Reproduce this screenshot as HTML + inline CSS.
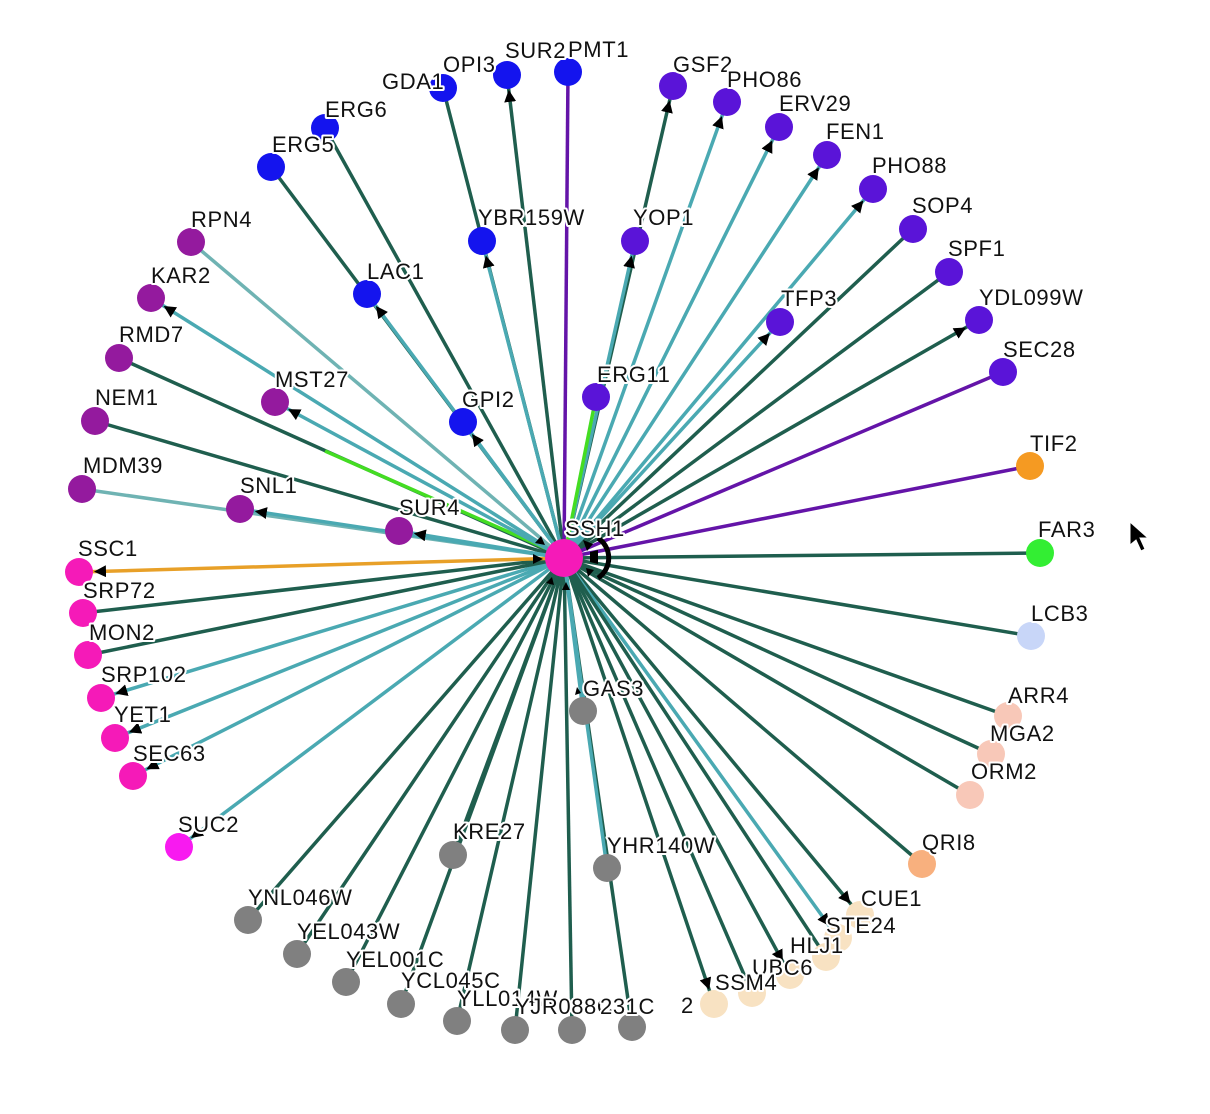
<!DOCTYPE html>
<html><head><meta charset="utf-8"><style>
html,body{margin:0;padding:0;background:#fff;}
svg{display:block;}
text{font-family:"Liberation Sans",sans-serif;font-size:22px;letter-spacing:0.6px;fill:#111;paint-order:stroke;stroke:#fff;stroke-width:4px;stroke-linejoin:round;}
</style></head><body>
<svg width="1210" height="1114" viewBox="0 0 1210 1114" xmlns="http://www.w3.org/2000/svg">
<defs>
<marker id="a" markerUnits="userSpaceOnUse" markerWidth="30" markerHeight="14" refX="27" refY="6" orient="auto"><path d="M0,0 L12,6 L0,12 z" fill="#000"/></marker>
</defs>
<g stroke-width="3.5" fill="none">
<!-- dark green #1f5e4e, teal #4aa9b2, purple #6414a8 -->
<line x1="564" y1="558" x2="271" y2="167" stroke="#1f5e4e"/>
<line x1="564" y1="558" x2="325" y2="128" stroke="#1f5e4e"/>
<line x1="564" y1="558" x2="443" y2="88" stroke="#1f5e4e"/>
<line x1="564" y1="558" x2="507" y2="75" stroke="#1f5e4e" marker-end="url(#a)"/>
<line x1="564" y1="558" x2="568" y2="72" stroke="#6414a8"/>
<line x1="564" y1="558" x2="673" y2="86" stroke="#1f5e4e" marker-end="url(#a)"/>
<line x1="564" y1="558" x2="727" y2="102" stroke="#4aa9b2" marker-end="url(#a)"/>
<line x1="564" y1="558" x2="779" y2="127" stroke="#4aa9b2" marker-end="url(#a)"/>
<line x1="564" y1="558" x2="827" y2="155" stroke="#4aa9b2" marker-end="url(#a)"/>
<line x1="564" y1="558" x2="873" y2="189" stroke="#4aa9b2" marker-end="url(#a)"/>
<line x1="564" y1="558" x2="913" y2="229" stroke="#1f5e4e"/>
<line x1="564" y1="558" x2="949" y2="272" stroke="#1f5e4e"/>
<line x1="564" y1="558" x2="979" y2="320" stroke="#1f5e4e" marker-end="url(#a)"/>
<line x1="564" y1="558" x2="1003" y2="372" stroke="#6414a8"/>
<line x1="564" y1="558" x2="1030" y2="466" stroke="#6414a8"/>
<line x1="564" y1="558" x2="1040" y2="553" stroke="#1f5e4e"/>
<line x1="564" y1="558" x2="1031" y2="636" stroke="#1f5e4e"/>
<line x1="564" y1="558" x2="1008" y2="716" stroke="#1f5e4e"/>
<line x1="564" y1="558" x2="991" y2="754" stroke="#1f5e4e"/>
<line x1="564" y1="558" x2="970" y2="795" stroke="#1f5e4e"/>
<line x1="564" y1="558" x2="922" y2="864" stroke="#1f5e4e"/>
<line x1="564" y1="558" x2="860" y2="915" stroke="#1f5e4e" marker-end="url(#a)"/>
<line x1="564" y1="558" x2="838" y2="938" stroke="#4aa9b2" marker-end="url(#a)"/>
<line x1="564" y1="558" x2="826" y2="957" stroke="#1f5e4e"/>
<line x1="564" y1="558" x2="790" y2="975" stroke="#1f5e4e" marker-end="url(#a)"/>
<line x1="564" y1="558" x2="752" y2="993" stroke="#1f5e4e"/>
<line x1="564" y1="558" x2="714" y2="1004" stroke="#1f5e4e" marker-end="url(#a)"/>
<line x1="564" y1="558" x2="632" y2="1027" stroke="#1f5e4e"/>
<line x1="564" y1="558" x2="572" y2="1030" stroke="#1f5e4e"/>
<line x1="564" y1="558" x2="515" y2="1030" stroke="#1f5e4e"/>
<line x1="564" y1="558" x2="457" y2="1021" stroke="#1f5e4e"/>
<line x1="564" y1="558" x2="401" y2="1004" stroke="#1f5e4e"/>
<line x1="564" y1="558" x2="346" y2="982" stroke="#1f5e4e"/>
<line x1="564" y1="558" x2="297" y2="954" stroke="#1f5e4e"/>
<line x1="564" y1="558" x2="248" y2="920" stroke="#1f5e4e"/>
<line x1="564" y1="558" x2="453" y2="855" stroke="#1f5e4e"/>
<line x1="564" y1="558" x2="607" y2="868" stroke="#4aa9b2"/>
<line x1="564" y1="558" x2="583" y2="711" stroke="#4aa9b2"/>
<line x1="564" y1="558" x2="179" y2="847" stroke="#4aa9b2" marker-end="url(#a)"/>
<line x1="564" y1="558" x2="133" y2="776" stroke="#4aa9b2" marker-end="url(#a)"/>
<line x1="564" y1="558" x2="115" y2="738" stroke="#4aa9b2" marker-end="url(#a)"/>
<line x1="564" y1="558" x2="101" y2="698" stroke="#4aa9b2" marker-end="url(#a)"/>
<line x1="564" y1="558" x2="88" y2="655" stroke="#1f5e4e"/>
<line x1="564" y1="558" x2="83" y2="613" stroke="#1f5e4e"/>
<line x1="564" y1="558" x2="79" y2="572" stroke="#e8a028" marker-end="url(#a)"/>
<line x1="564" y1="558" x2="82" y2="489" stroke="#6fb3b3"/>
<line x1="564" y1="558" x2="240" y2="509" stroke="#4aa9b2" marker-end="url(#a)"/>
<line x1="564" y1="558" x2="95" y2="421" stroke="#1f5e4e"/>
<line x1="564" y1="558" x2="399" y2="531" stroke="#4aa9b2" marker-end="url(#a)"/>
<line x1="564" y1="558" x2="119" y2="358" stroke="#1f5e4e"/>
<line x1="545" y1="548" x2="325" y2="451" stroke="#44dd22"/>
<line x1="564" y1="558" x2="275" y2="402" stroke="#4aa9b2" marker-end="url(#a)"/>
<line x1="564" y1="558" x2="151" y2="298" stroke="#4aa9b2" marker-end="url(#a)"/>
<line x1="564" y1="558" x2="191" y2="242" stroke="#6fb3b3"/>
<line x1="564" y1="558" x2="367" y2="294" stroke="#4aa9b2" marker-end="url(#a)"/>
<line x1="564" y1="558" x2="463" y2="422" stroke="#4aa9b2" marker-end="url(#a)"/>
<line x1="564" y1="558" x2="482" y2="241" stroke="#4aa9b2" marker-end="url(#a)"/>
<line x1="564" y1="558" x2="635" y2="241" stroke="#4aa9b2" marker-end="url(#a)"/>
<line x1="564" y1="558" x2="780" y2="322" stroke="#4aa9b2" marker-end="url(#a)"/>
<line x1="564" y1="558" x2="596" y2="397" stroke="#44dd22"/>
</g>
<!-- arrows near center -->
<g fill="#000">
<path d="M583,540 l10,4 l-6,7z"/><path d="M590,552 l8,-2 l0,14 l-8,-2z"/><path d="M586,568 l8,2 l-6,7z"/>
<path d="M545,545 l-10,-2 l6,-7z"/><path d="M543,559 l-10,-5 l0,10z"/><path d="M552,577 l-6,6 l8,2z"/><path d="M566,582 l-4,8 l8,0z"/>
<path d="M577,687 l4,6 l-6,2z"/>
</g>
<g stroke="none">
<circle cx="271" cy="167" r="14" fill="#1414ee"/>
<circle cx="325" cy="128" r="14" fill="#1414ee"/>
<circle cx="443" cy="88" r="14" fill="#1414ee"/>
<circle cx="507" cy="75" r="14" fill="#1414ee"/>
<circle cx="568" cy="72" r="14" fill="#1414ee"/>
<circle cx="482" cy="241" r="14" fill="#1414ee"/>
<circle cx="367" cy="294" r="14" fill="#1414ee"/>
<circle cx="463" cy="422" r="14" fill="#1414ee"/>
<circle cx="673" cy="86" r="14" fill="#5a14d8"/>
<circle cx="727" cy="102" r="14" fill="#5a14d8"/>
<circle cx="779" cy="127" r="14" fill="#5a14d8"/>
<circle cx="827" cy="155" r="14" fill="#5a14d8"/>
<circle cx="873" cy="189" r="14" fill="#5a14d8"/>
<circle cx="913" cy="229" r="14" fill="#5a14d8"/>
<circle cx="949" cy="272" r="14" fill="#5a14d8"/>
<circle cx="979" cy="320" r="14" fill="#5a14d8"/>
<circle cx="1003" cy="372" r="14" fill="#5a14d8"/>
<circle cx="635" cy="241" r="14" fill="#5a14d8"/>
<circle cx="780" cy="322" r="14" fill="#5a14d8"/>
<circle cx="596" cy="397" r="14" fill="#5a14d8"/>
<circle cx="191" cy="242" r="14" fill="#941a9e"/>
<circle cx="151" cy="298" r="14" fill="#941a9e"/>
<circle cx="119" cy="358" r="14" fill="#941a9e"/>
<circle cx="95" cy="421" r="14" fill="#941a9e"/>
<circle cx="82" cy="489" r="14" fill="#941a9e"/>
<circle cx="275" cy="402" r="14" fill="#941a9e"/>
<circle cx="240" cy="509" r="14" fill="#941a9e"/>
<circle cx="399" cy="531" r="14" fill="#941a9e"/>
<circle cx="79" cy="572" r="14" fill="#f51ab8"/>
<circle cx="83" cy="613" r="14" fill="#f51ab8"/>
<circle cx="88" cy="655" r="14" fill="#f51ab8"/>
<circle cx="101" cy="698" r="14" fill="#f51ab8"/>
<circle cx="115" cy="738" r="14" fill="#f51ab8"/>
<circle cx="133" cy="776" r="14" fill="#f51ab8"/>
<circle cx="179" cy="847" r="14" fill="#f81af0"/>
<circle cx="1030" cy="466" r="14" fill="#f59a22"/>
<circle cx="1040" cy="553" r="14" fill="#33ee33"/>
<circle cx="1031" cy="636" r="14" fill="#c8d6f8"/>
<circle cx="1008" cy="716" r="14" fill="#f8c8b8"/>
<circle cx="991" cy="754" r="14" fill="#f8c8b8"/>
<circle cx="970" cy="795" r="14" fill="#f8c8b8"/>
<circle cx="922" cy="864" r="14" fill="#f8b07e"/>
<circle cx="860" cy="915" r="14" fill="#f8e2c2"/>
<circle cx="838" cy="938" r="14" fill="#f8e2c2"/>
<circle cx="826" cy="957" r="14" fill="#f8e2c2"/>
<circle cx="790" cy="975" r="14" fill="#f8e2c2"/>
<circle cx="752" cy="993" r="14" fill="#f8e2c2"/>
<circle cx="714" cy="1004" r="14" fill="#f8e2c2"/>
<circle cx="583" cy="711" r="14" fill="#808080"/>
<circle cx="607" cy="868" r="14" fill="#808080"/>
<circle cx="453" cy="855" r="14" fill="#808080"/>
<circle cx="248" cy="920" r="14" fill="#808080"/>
<circle cx="297" cy="954" r="14" fill="#808080"/>
<circle cx="346" cy="982" r="14" fill="#808080"/>
<circle cx="401" cy="1004" r="14" fill="#808080"/>
<circle cx="457" cy="1021" r="14" fill="#808080"/>
<circle cx="515" cy="1030" r="14" fill="#808080"/>
<circle cx="572" cy="1030" r="14" fill="#808080"/>
<circle cx="632" cy="1027" r="14" fill="#808080"/>
<path d="M598,538 a24,24 0 0 1 0,40" stroke="#000" stroke-width="5" fill="none"/>
<circle cx="564" cy="558" r="19" fill="#f51ab8"/>
</g>
<g>
<text x="272" y="152">ERG5</text>
<text x="325" y="117">ERG6</text>
<text x="382" y="89">GDA1</text>
<text x="443" y="72">OPI3</text>
<text x="505" y="58">SUR2</text>
<text x="568" y="57">PMT1</text>
<text x="478" y="225">YBR159W</text>
<text x="367" y="279">LAC1</text>
<text x="462" y="407">GPI2</text>
<text x="673" y="72">GSF2</text>
<text x="727" y="87">PHO86</text>
<text x="779" y="111">ERV29</text>
<text x="826" y="139">FEN1</text>
<text x="872" y="173">PHO88</text>
<text x="912" y="213">SOP4</text>
<text x="948" y="256">SPF1</text>
<text x="979" y="305">YDL099W</text>
<text x="1003" y="357">SEC28</text>
<text x="633" y="225">YOP1</text>
<text x="781" y="306">TFP3</text>
<text x="597" y="382">ERG11</text>
<text x="191" y="227">RPN4</text>
<text x="151" y="283">KAR2</text>
<text x="119" y="342">RMD7</text>
<text x="95" y="405">NEM1</text>
<text x="83" y="473">MDM39</text>
<text x="275" y="387">MST27</text>
<text x="240" y="493">SNL1</text>
<text x="399" y="515">SUR4</text>
<text x="565" y="536">SSH1</text>
<text x="78" y="556">SSC1</text>
<text x="83" y="598">SRP72</text>
<text x="89" y="640">MON2</text>
<text x="101" y="682">SRP102</text>
<text x="114" y="722">YET1</text>
<text x="133" y="761">SEC63</text>
<text x="178" y="832">SUC2</text>
<text x="1030" y="451">TIF2</text>
<text x="1038" y="537">FAR3</text>
<text x="1031" y="621">LCB3</text>
<text x="1008" y="703">ARR4</text>
<text x="990" y="741">MGA2</text>
<text x="971" y="779">ORM2</text>
<text x="922" y="850">QRI8</text>
<text x="861" y="906">CUE1</text>
<text x="826" y="933">STE24</text>
<text x="790" y="953">HLJ1</text>
<text x="752" y="975">UBC6</text>
<text x="715" y="990">SSM4</text>
<text x="681" y="1013">2</text>
<text x="583" y="696">GAS3</text>
<text x="607" y="853">YHR140W</text>
<text x="453" y="839">KRE27</text>
<text x="248" y="905">YNL046W</text>
<text x="297" y="939">YEL043W</text>
<text x="346" y="967">YEL001C</text>
<text x="401" y="988">YCL045C</text>
<text x="457" y="1006">YLL014W</text>
<text x="515" y="1014">YJR088C</text>
<text x="600" y="1014">231C</text>
</g>
<path d="M1130,522 L1130,545 L1136,540 L1141,551 L1145,549 L1140,538 L1148,538 Z" fill="#000" stroke="#fff" stroke-width="1"/>
</svg>
</body></html>
